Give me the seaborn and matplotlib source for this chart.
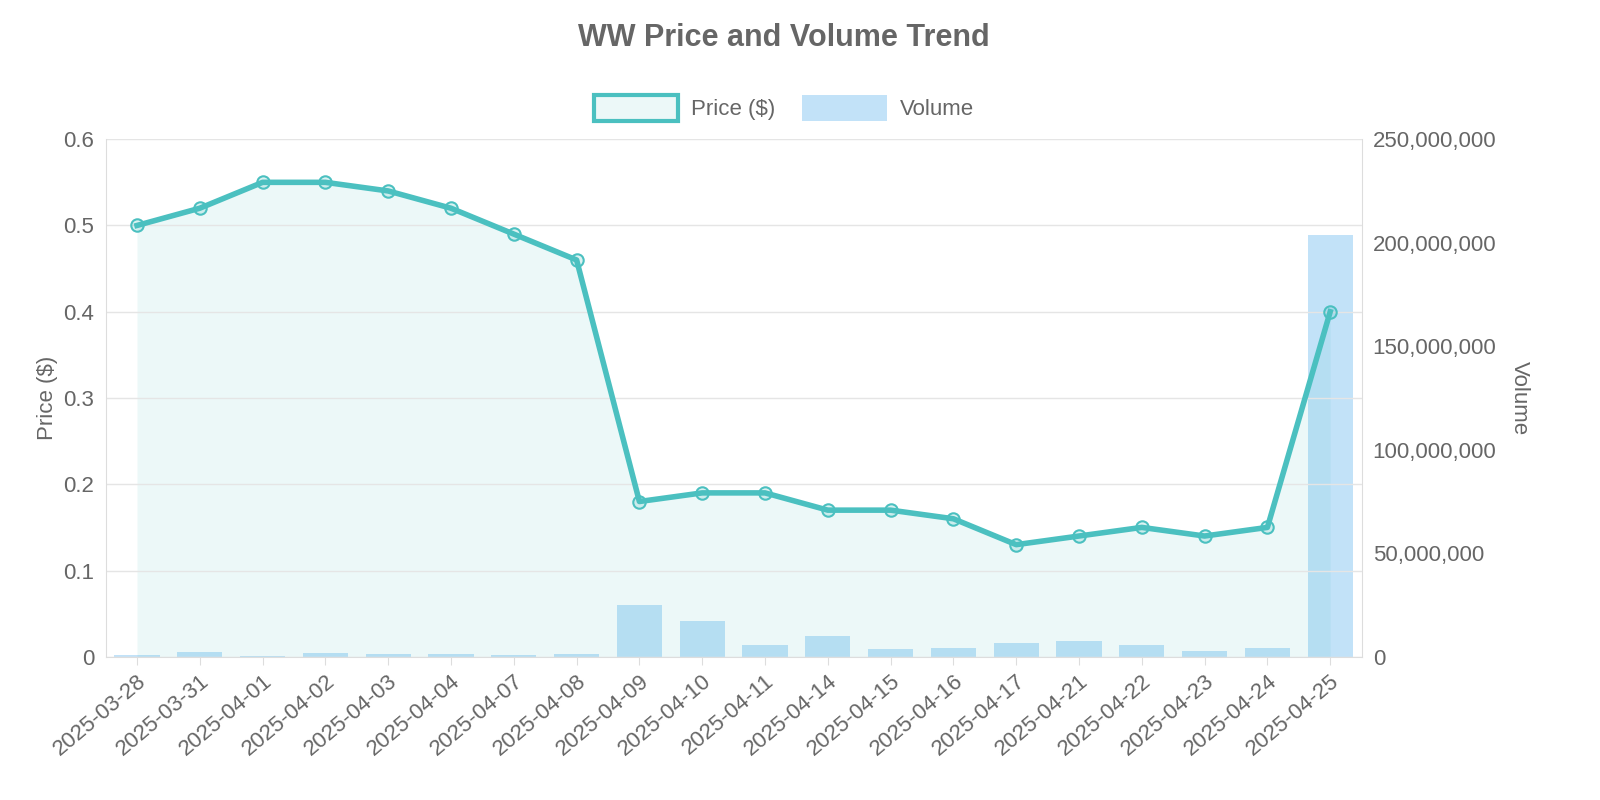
import matplotlib
matplotlib.use("Agg")
import matplotlib.pyplot as plt
import seaborn as sns
import pandas as pd
import numpy as np
from matplotlib.ticker import FuncFormatter
from matplotlib.patches import Patch

dates = ["2025-03-28","2025-03-31","2025-04-01","2025-04-02","2025-04-03","2025-04-04",
         "2025-04-07","2025-04-08","2025-04-09","2025-04-10","2025-04-11","2025-04-14",
         "2025-04-15","2025-04-16","2025-04-17","2025-04-21","2025-04-22","2025-04-23",
         "2025-04-24","2025-04-25"]
price = [0.50,0.52,0.55,0.55,0.54,0.52,0.49,0.46,0.18,0.19,0.19,0.17,0.17,0.16,0.13,0.14,0.15,0.14,0.15,0.40]
volume_m = [0.8,2.4,0.6,2.0,1.4,1.5,1.0,1.5,25.0,17.4,5.8,10.0,3.9,4.3,6.8,7.7,5.8,2.9,4.3,203.7]

df = pd.DataFrame({"date": dates, "price": price, "volume": np.array(volume_m) * 1e6})
df["pos"] = np.arange(len(df))

plt.rcParams["font.family"] = "Liberation Sans"
txt = "#666666"
fig = plt.figure(figsize=(16, 8), dpi=100)
ax = fig.add_axes([0.066, 0.179, 0.785, 0.647])
ax2 = ax.twinx()

sns.barplot(data=df, x="pos", y="volume", ax=ax2, color="#36A2EB", alpha=0.3,
            width=0.72, saturation=1, native_scale=True)
ax.set_zorder(ax2.get_zorder() + 1)
ax.patch.set_visible(False)

ax.fill_between(df["pos"], df["price"], 0, color="#4BC0C0", alpha=0.1, lw=0)
sns.lineplot(data=df, x="pos", y="price", ax=ax, color="#4BC0C0", lw=4, zorder=3)
ax.scatter(df["pos"], df["price"], s=80, facecolor=(75/255,192/255,192/255,0.2),
           edgecolor="#4BC0C0", linewidth=1.5, zorder=4)

n = len(df)
for a in (ax, ax2):
    a.set_xlim(-0.5, n - 0.5)
ax.set_ylim(0, 0.6)
ax2.set_ylim(0, 250e6)
ax.set_yticks(np.arange(0, 0.61, 0.1))
ax.yaxis.set_major_formatter(FuncFormatter(lambda v, p: "0" if v == 0 else f"{v:.1f}"))
ax2.set_yticks(np.arange(0, 250e6 + 1, 50e6))
ax2.yaxis.set_major_formatter(FuncFormatter(lambda v, p: f"{int(v):,}"))
ax.set_xticks(df["pos"])
ax.set_xticklabels(df["date"], rotation=40, ha="right", rotation_mode="anchor")
ax2.set_xlabel("")
ax.set_xlabel("")
ax.grid(axis="y", color="#E5E5E5", lw=1)
ax.grid(axis="x", visible=False)
ax2.grid(False)
for a in (ax, ax2):
    for s in a.spines.values():
        s.set_visible(False)
    a.tick_params(colors=txt, labelsize=16, length=0, pad=8)
ax.spines["left"].set_visible(True); ax.spines["left"].set_color("#DDDDDD")
ax.spines["bottom"].set_visible(True); ax.spines["bottom"].set_color("#DDDDDD")
ax2.spines["right"].set_visible(True); ax2.spines["right"].set_color("#DDDDDD")
ax.tick_params(axis="x", length=6, color="#DDDDDD", pad=4)
ax.set_ylabel("Price ($)", color=txt, fontsize=16)
ax2.set_ylabel("Volume", color=txt, fontsize=16, rotation=270, labelpad=24)

fig.text(0.49, 0.952, "WW Price and Volume Trend", ha="center", va="center",
         fontsize=22, fontweight="bold", color=txt)
handles = [Patch(facecolor=(75/255,192/255,192/255,0.1), edgecolor="#4BC0C0", lw=3),
           Patch(facecolor=(54/255,162/255,235/255,0.3), edgecolor="none")]
fig.legend(handles, ["Price ($)", "Volume"], loc="center", bbox_to_anchor=(0.49, 0.865),
           ncol=2, frameon=False, fontsize=16, labelcolor=txt, handlelength=3.8,
           handleheight=1.4, handletextpad=0.6, columnspacing=1.2)
fig.savefig("out.png", dpi=100)
